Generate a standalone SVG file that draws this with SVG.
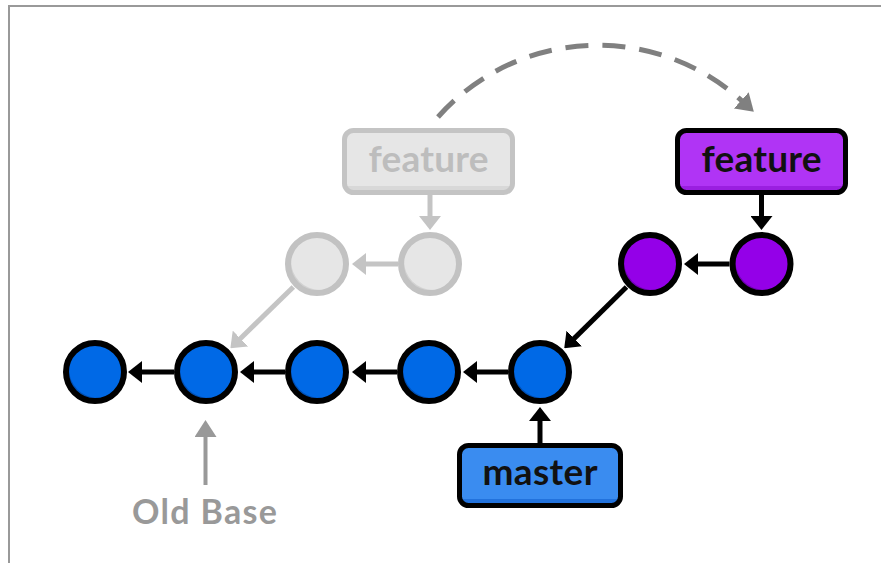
<svg xmlns="http://www.w3.org/2000/svg" width="881" height="563" viewBox="0 0 881 563">
<style>
.frame{stroke:#999;stroke-width:2;fill:none}
.cs{fill:none;stroke:#000;stroke-width:6}
.cs-g{fill:none;stroke:#c2c2c2;stroke-width:6}
.blue-d{fill:#0050b4}.blue-m{fill:#0069e6}
.pur-d{fill:#7000b4}.pur-m{fill:#9400e8}
.gr-d{fill:#d2d2d2}.gr-m{fill:#e6e6e6}
.lbl{font-family:Lato,"Liberation Sans",sans-serif;font-weight:700;font-size:37px;text-anchor:middle}
.conn{fill:none;stroke:#000;stroke-width:5}
.conn-g{fill:none;stroke:#c4c4c4;stroke-width:5}
</style>
<defs>
<clipPath id="cc"><circle r="29"/></clipPath>
<linearGradient id="gPur" x1="0" y1="0" x2="0" y2="1"><stop offset="0" stop-color="#b034f5"/><stop offset="0.9" stop-color="#b034f5"/><stop offset="0.9" stop-color="#9a1ee0"/><stop offset="1" stop-color="#9a1ee0"/></linearGradient>
<linearGradient id="gBlue" x1="0" y1="0" x2="0" y2="1"><stop offset="0" stop-color="#3a8cf0"/><stop offset="0.9" stop-color="#3a8cf0"/><stop offset="0.9" stop-color="#2272dc"/><stop offset="1" stop-color="#2272dc"/></linearGradient>
<linearGradient id="gGray" x1="0" y1="0" x2="0" y2="1"><stop offset="0" stop-color="#e6e6e6"/><stop offset="0.9" stop-color="#e6e6e6"/><stop offset="0.9" stop-color="#d8d8d8"/><stop offset="1" stop-color="#d8d8d8"/></linearGradient>
<marker id="mk" viewBox="0 0 14 22" markerWidth="14" markerHeight="22" markerUnits="userSpaceOnUse" refX="1" refY="11" orient="auto"><path d="M0,0 L14,11 L0,22 Z" fill="#000"/></marker>
<marker id="mg" viewBox="0 0 14 22" markerWidth="14" markerHeight="22" markerUnits="userSpaceOnUse" refX="1" refY="11" orient="auto"><path d="M0,0 L14,11 L0,22 Z" fill="#c4c4c4"/></marker>
<marker id="mo" viewBox="0 0 17 22" markerWidth="17" markerHeight="22" markerUnits="userSpaceOnUse" refX="1" refY="11" orient="auto"><path d="M0,0 L17,11 L0,22 Z" fill="#999"/></marker>
<marker id="md" viewBox="0 0 17 22" markerWidth="17" markerHeight="22" markerUnits="userSpaceOnUse" refX="1" refY="11" orient="auto"><path d="M0,0 L17,11 L0,22 Z" fill="#808080"/></marker>
</defs>
<rect width="881" height="563" fill="#fff"/>
<path class="frame" d="M9,563 V6 H881"/>

<g id="connectors">
<path class="conn-g" d="M293.3,287 L239.7,339.2" marker-end="url(#mg)"/>
<path class="conn-g" d="M398,264 L365,264" marker-end="url(#mg)"/>
<path class="conn-g" d="M430,195 L430,217" marker-end="url(#mg)"/>
<path class="conn" d="M174,372 L141,372" marker-end="url(#mk)"/>
<path class="conn" d="M285,372 L253,372" marker-end="url(#mk)"/>
<path class="conn" d="M397,372 L365,372" marker-end="url(#mk)"/>
<path class="conn" d="M508,372 L476,372" marker-end="url(#mk)"/>
<path class="conn" d="M540,443 L540,420" marker-end="url(#mk)"/>
<path class="conn" d="M761.5,195 L761.5,217" marker-end="url(#mk)"/>
<path class="conn" d="M729.5,264 L697,264" marker-end="url(#mk)"/>
<path class="conn" d="M626.5,287 L573.5,339.1" marker-end="url(#mk)"/>
<path d="M205.5,485 L205.5,436" fill="none" stroke="#999" stroke-width="4" marker-end="url(#mo)"/>
<path d="M438,117 A214,214 0 0 1 742,101" fill="none" stroke="#808080" stroke-width="5" stroke-dasharray="23 14" marker-end="url(#md)"/>
</g>

<g id="old-feature">
<rect x="344.5" y="130.5" width="168" height="62" rx="9" fill="url(#gGray)" stroke="#c4c4c4" stroke-width="5"/>
<text class="lbl" x="428.5" y="172" fill="#bdbdbd" textLength="120">feature</text>
</g>
<g id="old-c2" transform="translate(317,264)"><circle r="29" class="gr-d"/><circle cx="3" cy="-3" r="29" class="gr-m" clip-path="url(#cc)"/><circle r="29" class="cs-g"/></g>
<g id="old-c1" transform="translate(430,264)"><circle r="29" class="gr-d"/><circle cx="3" cy="-3" r="29" class="gr-m" clip-path="url(#cc)"/><circle r="29" class="cs-g"/></g>

<g id="c1" transform="translate(95,372)"><circle r="29" class="blue-d"/><circle cx="3" cy="-3" r="29" class="blue-m" clip-path="url(#cc)"/><circle r="29" class="cs"/></g>
<g id="c2" transform="translate(206,372)"><circle r="29" class="blue-d"/><circle cx="3" cy="-3" r="29" class="blue-m" clip-path="url(#cc)"/><circle r="29" class="cs"/></g>
<g id="c3" transform="translate(317,372)"><circle r="29" class="blue-d"/><circle cx="3" cy="-3" r="29" class="blue-m" clip-path="url(#cc)"/><circle r="29" class="cs"/></g>
<g id="c4" transform="translate(429,372)"><circle r="29" class="blue-d"/><circle cx="3" cy="-3" r="29" class="blue-m" clip-path="url(#cc)"/><circle r="29" class="cs"/></g>
<g id="c5" transform="translate(540,372)"><circle r="29" class="blue-d"/><circle cx="3" cy="-3" r="29" class="blue-m" clip-path="url(#cc)"/><circle r="29" class="cs"/></g>

<g id="p1" transform="translate(650,264)"><circle r="29" class="pur-d"/><circle cx="3" cy="-3" r="29" class="pur-m" clip-path="url(#cc)"/><circle r="29" class="cs"/></g>
<g id="p2" transform="translate(761.5,264)"><circle r="29" class="pur-d"/><circle cx="3" cy="-3" r="29" class="pur-m" clip-path="url(#cc)"/><circle r="29" class="cs"/></g>

<g id="feature">
<rect x="677.5" y="130.5" width="168" height="62" rx="9" fill="url(#gPur)" stroke="#000" stroke-width="5"/>
<text class="lbl" x="761.5" y="172" fill="#111" textLength="120">feature</text>
</g>
<g id="master">
<rect x="459.5" y="445.5" width="161" height="60" rx="9" fill="url(#gBlue)" stroke="#000" stroke-width="5"/>
<text class="lbl" x="540" y="485" fill="#111" textLength="115">master</text>
</g>
<g id="old-base">
<text x="204.5" y="524" font-family="Lato,'Liberation Sans',sans-serif" font-weight="700" font-size="34" fill="#999" text-anchor="middle" textLength="145">Old Base</text>
</g>
</svg>
